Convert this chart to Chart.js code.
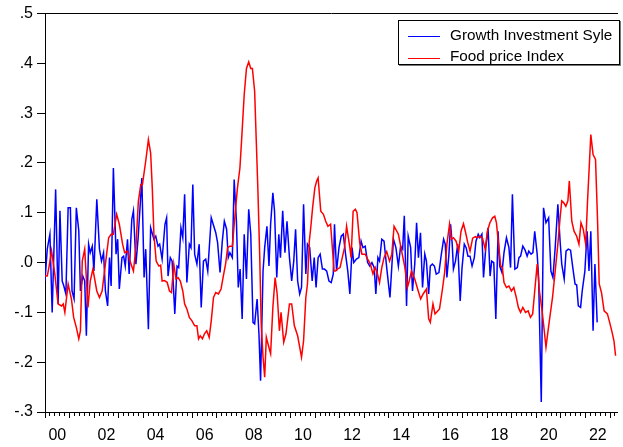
<!DOCTYPE html>
<html lang="en">
<head>
  <meta charset="UTF-8" />
  <title>Growth Investment Syle and Food price Index</title>
  <style>
    body {
      margin: 0;
      background-color: #fff;
    }
    .wrap {
      position: relative;
      width: 623px;
      height: 447px;
      overflow: hidden;
    }
    #legend {
      position: absolute;
      left: 398px;
      top: 20px;
      width: 222px;
      height: 45px;
      box-sizing: border-box;
      padding-top: 3px;
      border: 1px solid #000;
      box-shadow: 1px 1px 0 #777;
      background-color: #fff;
      font-family: 'Liberation Sans', Arial, sans-serif;
      font-size: 15.3px;
      color: #000;
    }
    .row {
      display: flex;
      align-items: center;
      height: 21.6px;
      white-space: nowrap;
    }
    .swatch {
      position: relative;
      top: 1.8px;
      width: 32px;
      height: 0;
      margin-left: 9px;
      margin-right: 10px;
      border-top: 1.5px solid;
    }
  </style>
</head>
<body>
  <div class="wrap">
    <canvas id="grafico" width="623" height="447"></canvas>
    <div id="legend"></div>
  </div>

  <script src="https://cdn.jsdelivr.net/npm/chart.js"></script>
  <script>
    // x = months since Jan 2000, y = value
    const growthSeries = [
      [0,-0.037],[1.1,0.027],[2.4,0.057],[3.5,-0.1],[5.2,0.147],[6.4,-0.083],[7.3,0.104],[8.4,-0.037],[9.2,-0.047],[10.2,-0.063],
      [11.3,0.11],[12.4,0.11],[13.2,-0.057],[14.2,-0.073],[15.3,0.11],[16.5,0.064],[17.3,-0.057],[18.5,-0.027],[19.4,-0.037],[20.2,-0.147],
      [21.3,0.037],[22.1,0.02],[23.1,0.033],[23.9,-0.017],[25.3,0.127],[26.6,0.027],[27.6,0.003],[28.6,0.02],[29.5,-0.057],[30.6,-0.087],
      [31.5,0.01],[32.3,-0.047],[33.4,0.19],[34.7,0.017],[35.5,0.047],[36.3,-0.053],[37.6,0.01],[38.4,0.013],[39.2,-0.007],[40.3,0.047],
      [41.1,-0.023],[42.4,0.087],[43.2,0.104],[44.4,-0.003],[45.5,0.05],[47.3,0.17],[48.4,-0.03],[49.2,0.027],[50.5,-0.134],[51.6,0.07],
      [53.2,0.047],[54.1,0.053],[55.2,0.033],[56,0.037],[57.2,0.007],[58.6,0.077],[59.4,0.09],[60.1,-0.027],[61.2,0.01],[62.1,0.003],
      [63.4,-0.103],[64.5,-0.007],[65.3,-0.01],[66.4,0.07],[67.3,0.05],[68.2,0.137],[69.3,-0.04],[70.5,0.037],[71.3,0.03],[72.2,0.157],
      [73.1,0.017],[74.2,-0.003],[75.3,0.037],[76.3,-0.09],[77.4,0.003],[78.5,0.007],[79.5,-0.017],[81.2,0.09],[82.3,0.075],[83.4,0.06],
      [84.3,0.04],[85.5,-0.02],[86.6,0.043],[87.6,0.083],[88.7,0.067],[89.5,0.01],[90.3,0.02],[91.5,0.01],[92.4,0.167],[93.5,0.083],
      [94.4,-0.05],[95.3,-0.013],[96.3,-0.113],[97.3,0.057],[98.4,-0.033],[99.5,0.107],[100.5,0.057],[101.6,-0.12],[102.4,-0.123],[103.6,-0.073],
      [104.5,-0.143],[105.3,-0.237],[106.5,-0.017],[107.3,0.03],[108.4,0.073],[109.4,-0.007],[110.2,0.077],[111.3,0.14],[112.1,0.104],[113.2,-0.03],
      [114.2,0.057],[115,0.01],[116.1,0.104],[117.2,0.02],[118.2,0.083],[119.4,0.01],[120.5,-0.037],[121.5,0.003],[122.4,0.067],[123.4,-0.037],
      [124.4,-0.063],[125.3,-0.05],[126.3,0.117],[127.4,-0.023],[128.2,0.037],[129.3,0.03],[130.5,-0.037],[131.5,0.01],[132.4,-0.05],[133.4,0.01],
      [134.4,0.017],[135.5,-0.013],[136.5,-0.013],[137.6,-0.017],[138.7,-0.037],[139.8,-0.04],[140.8,-0.023],[141.4,0.077],[142.4,-0.017],[143.6,0.03],
      [144.7,0.053],[145.7,0.057],[146.8,0.017],[147.9,-0.017],[148.9,-0.063],[150,0.03],[150.8,0],[152.1,0.007],[153.3,0.01],[154.4,0.043],
      [155.3,0.03],[156.4,0.033],[157.6,0],[158.6,-0.007],[159.7,0],[160.8,-0.01],[161.6,-0.063],[162.6,0.01],[163.4,0.003],[164.5,0.047],
      [165.6,0.043],[166.9,-0.01],[168.5,-0.07],[170.2,0.047],[171.4,0.03],[172.6,-0.007],[173.7,0.033],[174.7,0.027],[175.5,0.094],[176.6,-0.087],
      [177.4,0.053],[178.6,0.03],[179.5,-0.057],[180.6,-0.003],[181.5,0.08],[182.4,0.01],[183.4,0.06],[184.4,-0.05],[185.5,0.017],[186.3,0.003],
      [187.4,-0.063],[188.2,-0.007],[189.2,-0.003],[190.2,-0.007],[191.1,-0.023],[192.4,-0.02],[193.6,0.017],[194.7,0.047],[195.5,0.037],[196.3,-0.03],
      [197.3,0.017],[198.1,0.077],[198.9,0.037],[199.5,-0.013],[200.5,0.003],[201.6,0.037],[202.8,-0.077],[203.7,-0.01],[204.8,0.037],[205.7,0.03],
      [206.6,0.013],[207.6,0.013],[208.6,-0.007],[209.7,0.01],[210.5,0.043],[211.6,0.057],[212.4,0.05],[213.4,0.057],[214.2,-0.03],[215.3,0.03],
      [216.4,0.07],[217.4,-0.027],[218.2,0.003],[219.2,0],[220.2,-0.113],[221.3,0.063],[222.1,-0.007],[223.2,-0.02],[224.2,0.02],[225.4,0.05],
      [226.6,0.03],[227.4,-0.01],[228.3,0.137],[229.5,-0.013],[230.7,-0.01],[231.5,0.01],[232.3,0.013],[233.4,0.033],[234.5,0.025],[235.5,0.013],
      [236.3,0.023],[237.4,0.017],[238.3,0.02],[239.2,0.063],[240.4,0.017],[241.1,-0.03],[242.4,-0.28],[243.5,0.11],[244.7,0.08],[246,0.09],
      [247.1,-0.017],[248.1,-0.03],[249.2,0.03],[250.5,0.117],[251.6,0.043],[252.4,-0.003],[253.6,-0.033],[254.5,0.023],[255.6,0.027],[256.7,0.025],
      [257.8,-0.01],[258.9,-0.043],[259.7,-0.045],[260.5,-0.087],[261.6,-0.09],[262.4,-0.057],[263.7,-0.017],[264.8,0.063],[265.7,-0.017],[266.6,0.063],
      [267.7,-0.137],[268.6,-0.003],[269.7,-0.12]
    ];

    const foodSeries = [
      [0,-0.027],[1.1,-0.027],[1.9,-0.01],[3.2,0.024],[4.8,-0.023],[6.4,-0.083],[8.1,-0.087],[8.9,-0.083],[9.7,-0.1],[11.3,-0.043],
      [12.9,-0.073],[14,-0.11],[15.3,-0.13],[16.5,-0.153],[17.3,-0.137],[18.2,0.003],[19.4,0.027],[21,-0.09],[22.1,-0.037],[23.4,-0.013],
      [25.3,-0.057],[26.6,-0.07],[27.9,-0.057],[29.5,-0.003],[31.1,0.05],[32.3,0.057],[33.4,0.057],[35,0.097],[36.3,0.077],[37.9,0.037],
      [38.9,0.02],[40.3,0.023],[41.5,0.003],[43.2,-0.017],[44.4,0.03],[45.6,0.123],[46.8,0.157],[47.6,0.157],[49.2,0.204],[50.5,0.247],
      [51.6,0.22],[52.4,0.15],[53.2,0.057],[54.3,0.003],[55.6,-0.007],[56.5,-0.005],[57.2,-0.037],[58.4,-0.036],[59.7,-0.04],[60.8,-0.057],
      [61.8,-0.06],[62.9,-0.003],[64,-0.033],[65,-0.03],[66.1,-0.037],[67.3,-0.057],[68.2,-0.083],[69.3,-0.093],[70.5,-0.11],[71.8,-0.117],
      [73.1,-0.127],[74.2,-0.127],[75,-0.153],[75.8,-0.147],[76.9,-0.153],[77.9,-0.143],[79,-0.137],[80.2,-0.15],[81.2,-0.117],[82.3,-0.07],
      [83.4,-0.06],[84.7,-0.063],[86,-0.053],[87.1,-0.027],[88.2,-0.003],[89.2,0.03],[90.3,0.033],[91.5,0.033],[92.8,0.095],[94,0.15],
      [95.2,0.19],[96,0.244],[97.3,0.337],[98.4,0.39],[99.5,0.403],[100.5,0.39],[101.3,0.39],[102.4,0.344],[103.2,0.244],[104,0.144],
      [104.9,0.01],[105.6,-0.123],[106.5,-0.19],[107.3,-0.23],[108.1,-0.15],[108.9,-0.163],[110.2,-0.183],[111.3,-0.09],[112.4,-0.03],[113.4,-0.063],
      [114.5,-0.137],[115.3,-0.1],[116.6,-0.16],[117.7,-0.143],[119.4,-0.083],[120.5,-0.083],[121.8,-0.127],[123.4,-0.147],[125.3,-0.19],[126.3,-0.157],
      [127.4,-0.07],[128.2,-0.043],[129.1,0.043],[129.8,0.07],[130.7,0.11],[131.8,0.15],[132.7,0.164],[133.4,0.17],[134.7,0.103],[136,0.097],
      [137.1,0.083],[138.2,0.073],[139.5,0.077],[141.2,-0.017],[141.9,-0.017],[142.8,-0.013],[144.1,-0.01],[145.2,0.01],[146.3,0.03],[147.3,0.073],
      [147.9,0.057],[148.9,0.03],[149.5,0.01],[150.5,0.103],[151.6,0.107],[152.4,0.1],[153.7,0.04],[154.8,0.017],[156.4,0.017],[157.6,0.007],
      [158.9,-0.003],[160.2,-0.023],[161.3,-0.01],[162.4,-0.023],[163.4,-0.04],[164.5,-0.01],[165.6,0.01],[166.9,0.022],[168.3,0.003],[169.4,0.017],
      [170.5,0.073],[171.8,0.063],[172.6,0.057],[174.2,0.023],[175.8,-0.01],[177,-0.05],[177.9,-0.037],[179,-0.017],[180.6,-0.033],[182.3,-0.057],
      [183.5,-0.073],[184.7,-0.063],[186.3,-0.053],[187.4,-0.113],[188.2,-0.12],[189.5,-0.083],[190.5,-0.103],[191.6,-0.098],[192.7,-0.093],[194,-0.057],
      [195.2,-0.02],[196.3,0.037],[197.6,0.077],[198.5,0.047],[199.5,0.05],[200.8,0.043],[202.1,0.023],[203.2,0.063],[204.4,0.078],[205.3,0.063],
      [206.5,0.04],[207.6,0.023],[208.9,0.049],[210.2,0.052],[211.3,0.05],[212.4,0.053],[213.7,0.049],[215,0.027],[216.1,0.063],[217.3,0.08],
      [218.6,0.09],[219.7,0.093],[220.5,0.08],[221.5,0.037],[222.6,-0.007],[223.4,-0.01],[224.2,-0.04],[225.4,-0.05],[226.6,-0.047],[227.8,-0.057],
      [229,-0.05],[230.2,-0.07],[231.2,-0.09],[232.3,-0.1],[233.4,-0.09],[234.7,-0.1],[236,-0.097],[237.1,-0.11],[238.2,-0.103],[239.2,-0.057],
      [240.4,-0.003],[241.5,-0.057],[242.8,-0.097],[243.5,-0.123],[244.7,-0.17],[245.7,-0.137],[246.8,-0.103],[247.9,-0.07],[249.2,-0.017],[250.5,0.037],
      [251.6,0.09],[252.4,0.124],[253.4,0.12],[254.4,0.113],[255.4,0.124],[256.1,0.164],[257.3,0.083],[258.4,0.063],[259.7,0.053],[260.8,0.037],
      [261.8,0.08],[262.9,0.067],[264.1,0.037],[265,0.124],[265.8,0.19],[266.6,0.257],[267.7,0.217],[268.9,0.207],[269.9,0.083],[270.7,-0.043],
      [271.8,-0.06],[273.1,-0.097],[274.7,-0.103],[275.8,-0.12],[277,-0.14],[277.9,-0.157],[278.7,-0.187]
    ];

    const xYearLabels = ['00','02','04','06','08','10','12','14','16','18','20','22'];
    const yTickValues = [-0.3,-0.2,-0.1,0,0.1,0.2,0.3,0.4,0.5];
    const yTickLabels = ['-.3','-.2','-.1','.0','.1','.2','.3','.4','.5'];

    const xMaxMonths = 279.7;   // the frame runs past the right edge of the picture
    const minorStep = 2.4;      // 5 tick intervals per year
    const fonte = { family: "'Liberation Sans', Arial, sans-serif", size: 16 };

    const ctx = document.getElementById('grafico').getContext('2d');

    const chart = new Chart(ctx, {
      type: 'line',
      data: {
        datasets: [
          {
            label: 'Growth Investment Syle',
            data: growthSeries.map(([x, y]) => ({ x, y })),
            borderColor: '#0000ff',
            borderWidth: 1.5,
            pointRadius: 0,
            fill: false,
            order: 1
          },
          {
            label: 'Food price Index',
            data: foodSeries.map(([x, y]) => ({ x, y })),
            borderColor: '#ff0000',
            borderWidth: 1.5,
            pointRadius: 0,
            fill: false,
            order: 0
          }
        ]
      },
      options: {
        responsive: false,
        animation: false,
        devicePixelRatio: 1,
        layout: { padding: 0 },
        plugins: {
          legend: { display: false },
          tooltip: { enabled: false }
        },
        scales: {
          x: {
            type: 'linear',
            position: 'bottom',
            min: 0,
            max: xMaxMonths,
            afterBuildTicks: (scale) => {
              const ticks = [];
              for (let k = 0; k * minorStep <= xMaxMonths; k++) {
                ticks.push({ value: k * minorStep, minorTick: k % 5 !== 0 });
              }
              xYearLabels.forEach(lbl => {
                ticks.push({ value: parseInt(lbl, 10) * 12 + 6, yearText: lbl });
              });
              ticks.sort((a, b) => a.value - b.value);
              scale.ticks = ticks;
            },
            afterFit: (scale) => { scale.height = 35; },
            ticks: {
              autoSkip: false,
              maxRotation: 0,
              minRotation: 0,
              padding: 8,
              color: '#000',
              font: fonte,
              callback: (v, i, ticks) => ticks[i].yearText || ''
            },
            grid: {
              drawOnChartArea: false,
              tickLength: 6,
              tickColor: (c) => (c.tick && c.tick.yearText) ? 'rgba(0,0,0,0)' : '#000',
              tickBorderDash: (c) => (c.tick && c.tick.minorTick) ? [3, 20] : []
            },
            border: { color: '#000', width: 1 }
          },
          xTop: {
            type: 'linear',
            position: 'top',
            min: 0,
            max: xMaxMonths,
            ticks: { display: false },
            grid: { display: false },
            border: { color: '#000', width: 1 },
            afterFit: (scale) => { scale.height = 12.7; }
          },
          y: {
            min: -0.3,
            max: 0.5,
            afterBuildTicks: (scale) => {
              scale.ticks = yTickValues.map(v => ({ value: v }));
            },
            afterFit: (scale) => { scale.width = 45; },
            ticks: {
              padding: 4,
              color: '#000',
              font: fonte,
              callback: (v, i) => yTickLabels[i]
            },
            grid: {
              drawOnChartArea: false,
              tickLength: 8,
              tickColor: '#000'
            },
            border: { color: '#000', width: 1 }
          }
        }
      }
    });

    // legend box inside the plot, as in the original
    const legendEl = document.getElementById('legend');
    legendEl.innerHTML = chart.data.datasets.map(ds => `
      <div class="row">
        <span class="swatch" style="border-top-color:${ds.borderColor}"></span>
        <span>${ds.label}</span>
      </div>`).join('');
  </script>
</body>
</html>
